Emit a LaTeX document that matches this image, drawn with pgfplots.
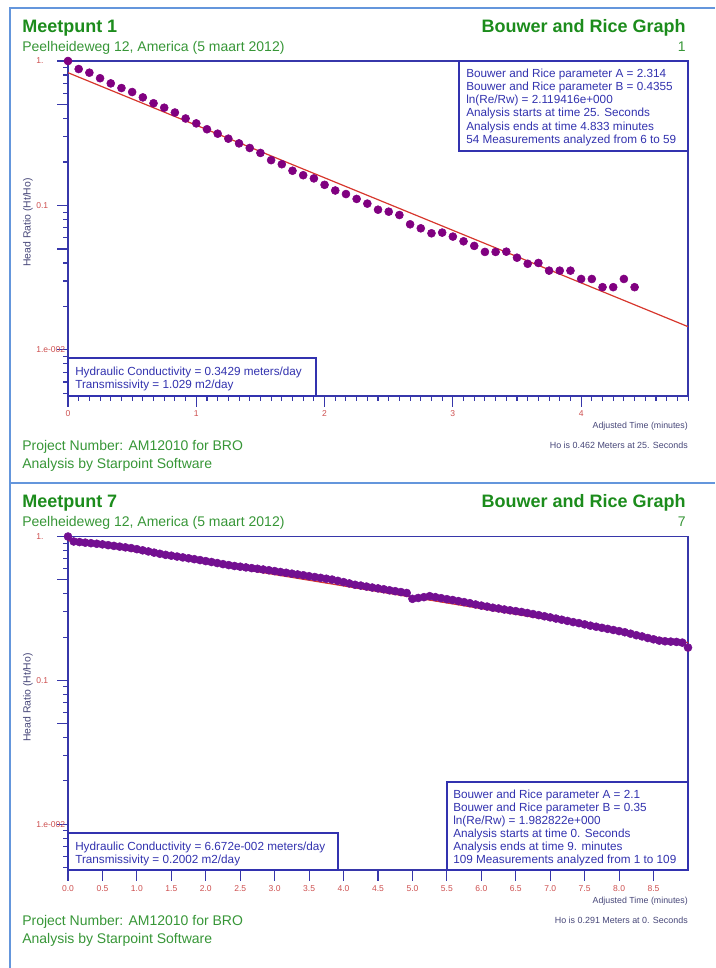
\documentclass[border=0pt]{standalone}
\usepackage{pgfplots}
\pgfplotsset{compat=1.18}
\usepackage{pgfplotstable}
\usepackage{fontspec}
\setmainfont{Liberation Sans}
\definecolor{ttlgreen}{RGB}{28,140,28}
\definecolor{subgreen}{RGB}{55,150,55}
\definecolor{boxblue}{RGB}{50,50,175}
\definecolor{axblue}{RGB}{55,55,170}
\definecolor{ticred}{RGB}{205,80,80}
\definecolor{frameblue}{RGB}{100,150,220}
\definecolor{mkpurple}{RGB}{128,0,128}
\definecolor{mkpurple2}{RGB}{115,15,145}
\definecolor{fitred}{RGB}{215,55,45}
\definecolor{lblblue}{RGB}{70,70,120}

\pgfplotstableread{
t h
0 1.0
0.0833 0.88
0.1667 0.83
0.25 0.76
0.3333 0.70
0.4167 0.65
0.5 0.61
0.5833 0.56
0.6667 0.51
0.75 0.475
0.8333 0.44
0.9167 0.40
1.0 0.37
1.0833 0.337
1.1667 0.314
1.25 0.290
1.3333 0.269
1.4167 0.250
1.5 0.231
1.5833 0.206
1.6667 0.193
1.75 0.174
1.8333 0.162
1.9167 0.154
2.0 0.139
2.0833 0.127
2.1667 0.120
2.25 0.111
2.3333 0.103
2.4167 0.0935
2.5 0.0906
2.5833 0.0859
2.6667 0.0741
2.75 0.0695
2.8333 0.0642
2.9167 0.0649
3.0 0.0609
3.0833 0.0565
3.1667 0.0525
3.25 0.0477
3.3333 0.0477
3.4167 0.0479
3.5 0.0435
3.5833 0.0395
3.6667 0.0400
3.75 0.0354
3.8333 0.0354
3.9167 0.0354
4.0 0.0310
4.0833 0.0310
4.1667 0.0272
4.25 0.0272
4.3333 0.0310
4.4167 0.0272
}\topdata

\pgfplotstableread{
t h
0 1.000
0.0833 0.924
0.1667 0.915
0.25 0.907
0.3333 0.899
0.4167 0.891
0.5 0.882
0.5833 0.871
0.6667 0.861
0.75 0.851
0.8333 0.841
0.9167 0.831
1.0 0.817
1.0833 0.802
1.1667 0.788
1.25 0.773
1.3333 0.759
1.4167 0.746
1.5 0.736
1.5833 0.726
1.6667 0.716
1.75 0.706
1.8333 0.696
1.9167 0.686
2.0 0.675
2.0833 0.665
2.1667 0.654
2.25 0.643
2.3333 0.633
2.4167 0.624
2.5 0.617
2.5833 0.610
2.6667 0.603
2.75 0.597
2.8333 0.590
2.9167 0.583
3.0 0.575
3.0833 0.567
3.1667 0.560
3.25 0.552
3.3333 0.545
3.4167 0.538
3.5 0.530
3.5833 0.523
3.6667 0.516
3.75 0.509
3.8333 0.502
3.9167 0.492
4.0 0.482
4.0833 0.472
4.1667 0.462
4.25 0.456
4.3333 0.449
4.4167 0.442
4.5 0.436
4.5833 0.430
4.6667 0.423
4.75 0.417
4.8333 0.411
4.9167 0.405
5.0 0.369
5.0833 0.374
5.1667 0.379
5.25 0.385
5.3333 0.379
5.4167 0.373
5.5 0.367
5.5833 0.362
5.6667 0.356
5.75 0.350
5.8333 0.344
5.9167 0.337
6.0 0.331
6.0833 0.326
6.1667 0.320
6.25 0.316
6.3333 0.311
6.4167 0.307
6.5 0.303
6.5833 0.299
6.6667 0.294
6.75 0.289
6.8333 0.284
6.9167 0.279
7.0 0.274
7.0833 0.269
7.1667 0.264
7.25 0.259
7.3333 0.254
7.4167 0.250
7.5 0.245
7.5833 0.240
7.6667 0.236
7.75 0.232
7.8333 0.228
7.9167 0.224
8.0 0.220
8.0833 0.216
8.1667 0.211
8.25 0.206
8.3333 0.202
8.4167 0.197
8.5 0.193
8.5833 0.189
8.6667 0.187
8.75 0.186
8.8333 0.185
8.9167 0.183
9.0 0.169
}\botdata

\begin{document}
\begin{tikzpicture}
\path[use as bounding box] (0,0) rectangle (536.25pt,-726pt);

% ---------- top panel ----------
\begin{axis}[ymode=log, ymin=0.0048, ymax=1,
  scale only axis, width=465pt, height=251.25pt, at={(51pt,-297pt)}, anchor=south west,
  axis line style={axblue, line width=0.9pt},
  tick style={axblue, line width=0.8pt},
  tick align=outside, xtick pos=bottom, ytick pos=left,
  major tick length=8pt, minor tick length=3.5pt,
  ytick={0.01,0.1,1}, yticklabels={1.e-002,0.1,1.},
  minor ytick={0.005,0.006,0.007,0.008,0.009,0.02,0.03,0.04,0.06,0.07,0.08,0.09,0.2,0.3,0.4,0.6,0.7,0.8,0.9},
  extra y ticks={0.05,0.5}, extra y tick labels={},
  tick label style={font=\fontsize{6.4}{8}\selectfont, text=ticred},
  yticklabel style={anchor=west, inner sep=0pt, xshift=-16pt},
  xticklabel style={inner sep=1pt, yshift=-1.5pt},
  xmin=0, xmax=4.833,
  xtick={0,1,2,3,4}, xticklabels={0,1,2,3,4},
  minor xtick={0,0.083333,...,4.83}]
\addplot[only marks, mark=*, mark size=3pt, color=mkpurple] table[x=t,y=h] {\topdata};
\addplot[fitred, line width=0.9pt] coordinates {(0,0.83) (4.833,0.0145)};
\end{axis}

% ---------- bottom panel ----------
\begin{axis}[ymode=log, ymin=0.0048, ymax=1,
  scale only axis, width=465pt, height=250.1pt, at={(51pt,-652.5pt)}, anchor=south west,
  axis line style={axblue, line width=0.9pt},
  tick style={axblue, line width=0.8pt},
  tick align=outside, xtick pos=bottom, ytick pos=left,
  major tick length=8pt, minor tick length=3.5pt,
  ytick={0.01,0.1,1}, yticklabels={1.e-002,0.1,1.},
  minor ytick={0.005,0.006,0.007,0.008,0.009,0.02,0.03,0.04,0.06,0.07,0.08,0.09,0.2,0.3,0.4,0.6,0.7,0.8,0.9},
  extra y ticks={0.05,0.5}, extra y tick labels={},
  tick label style={font=\fontsize{6.4}{8}\selectfont, text=ticred},
  yticklabel style={anchor=west, inner sep=0pt, xshift=-16pt},
  xticklabel style={inner sep=1pt, yshift=-2.5pt},
  xmin=0, xmax=9,
  xtick={0,0.5,1,1.5,2,2.5,3,3.5,4,4.5,5,5.5,6,6.5,7,7.5,8,8.5},
  xticklabels={0.0,0.5,1.0,1.5,2.0,2.5,3.0,3.5,4.0,4.5,5.0,5.5,6.0,6.5,7.0,7.5,8.0,8.5}]
\addplot[only marks, mark=*, mark size=3pt, color=mkpurple2] table[x=t,y=h] {\botdata};
\addplot[fitred, line width=0.9pt] coordinates {(0,0.938) (9,0.183)};
\end{axis}

\begin{scope}[x=0.75pt,y=-0.75pt]
% frames
\draw[frameblue, line width=0.8pt] (10,968) -- (10,8) -- (715,8);
\draw[frameblue, line width=0.8pt] (10,483) -- (715,483);

\foreach \dy/\num in {0/1,475/7}{
  \begin{scope}[yshift=-\dy*0.75pt]
  \node[anchor=base west, inner sep=0, text=ttlgreen, font=\fontsize{13.5}{16}\selectfont\bfseries] at (22,32) {Meetpunt \num};
  \node[anchor=base east, inner sep=0, text=ttlgreen, font=\fontsize{13.5}{16}\selectfont\bfseries] at (686,32) {Bouwer and Rice Graph};
  \node[anchor=base west, inner sep=0, text=subgreen, font=\fontsize{10.5}{12}\selectfont] at (22,51.5) {Peelheideweg 12, America (5 maart 2012)};
  \node[anchor=base east, inner sep=0, text=subgreen, font=\fontsize{10.5}{12}\selectfont] at (686,51.5) {\num};
  \node[anchor=base west, inner sep=0, text=subgreen, font=\fontsize{10.5}{12}\selectfont] at (22,450) {Project Number: AM12010 for BRO};
  \node[anchor=base west, inner sep=0, text=subgreen, font=\fontsize{10.5}{12}\selectfont] at (22,468) {Analysis by Starpoint Software};
  \node[anchor=base east, inner sep=0, text=lblblue, font=\fontsize{6.6}{8}\selectfont] at (688,428) {Adjusted Time (minutes)};
  \node[rotate=90, inner sep=0, text=lblblue, font=\fontsize{7.8}{9}\selectfont] at (28,222.5) {Head Ratio (Ht/Ho)};
  \end{scope}
}
\node[anchor=base east, inner sep=0, text=lblblue, font=\fontsize{6.7}{8}\selectfont] at (688,448.5) {Ho is 0.462 Meters at 25. Seconds};
\node[anchor=base east, inner sep=0, text=lblblue, font=\fontsize{6.7}{8}\selectfont] at (688,923.5) {Ho is 0.291 Meters at 0. Seconds};

% top info box
\draw[boxblue, line width=0.9pt, fill=white] (459,61) rectangle (688,151);
\foreach \i/\txt in {0/{Bouwer and Rice parameter A = 2.314},1/{Bouwer and Rice parameter B = 0.4355},2/{ln(Re/Rw) = 2.119416e+000},3/{Analysis starts at time 25. Seconds},4/{Analysis ends at time 4.833 minutes},5/{54 Measurements analyzed from 6 to 59}}{
  \node[anchor=base west, inner sep=0, text=boxblue, font=\fontsize{8.8}{10}\selectfont] at (466,77+13.3*\i) {\txt};
}
\draw[boxblue, line width=0.9pt, fill=white] (68,358) rectangle (316,396);
\node[anchor=base west, inner sep=0, text=boxblue, font=\fontsize{8.8}{10}\selectfont] at (75,375) {Hydraulic Conductivity = 0.3429 meters/day};
\node[anchor=base west, inner sep=0, text=boxblue, font=\fontsize{8.8}{10}\selectfont] at (75,388) {Transmissivity = 1.029 m2/day};

% bottom info box
\draw[boxblue, line width=0.9pt, fill=white] (447,782) rectangle (688,870);
\foreach \i/\txt in {0/{Bouwer and Rice parameter A = 2.1},1/{Bouwer and Rice parameter B = 0.35},2/{ln(Re/Rw) = 1.982822e+000},3/{Analysis starts at time 0. Seconds},4/{Analysis ends at time 9. minutes},5/{109 Measurements analyzed from 1 to 109}}{
  \node[anchor=base west, inner sep=0, text=boxblue, font=\fontsize{8.8}{10}\selectfont] at (453,798+13.1*\i) {\txt};
}
\draw[boxblue, line width=0.9pt, fill=white] (68,833) rectangle (338,870);
\node[anchor=base west, inner sep=0, text=boxblue, font=\fontsize{8.8}{10}\selectfont] at (75,850) {Hydraulic Conductivity = 6.672e-002 meters/day};
\node[anchor=base west, inner sep=0, text=boxblue, font=\fontsize{8.8}{10}\selectfont] at (75,863) {Transmissivity = 0.2002 m2/day};
\end{scope}
\end{tikzpicture}
\end{document}
